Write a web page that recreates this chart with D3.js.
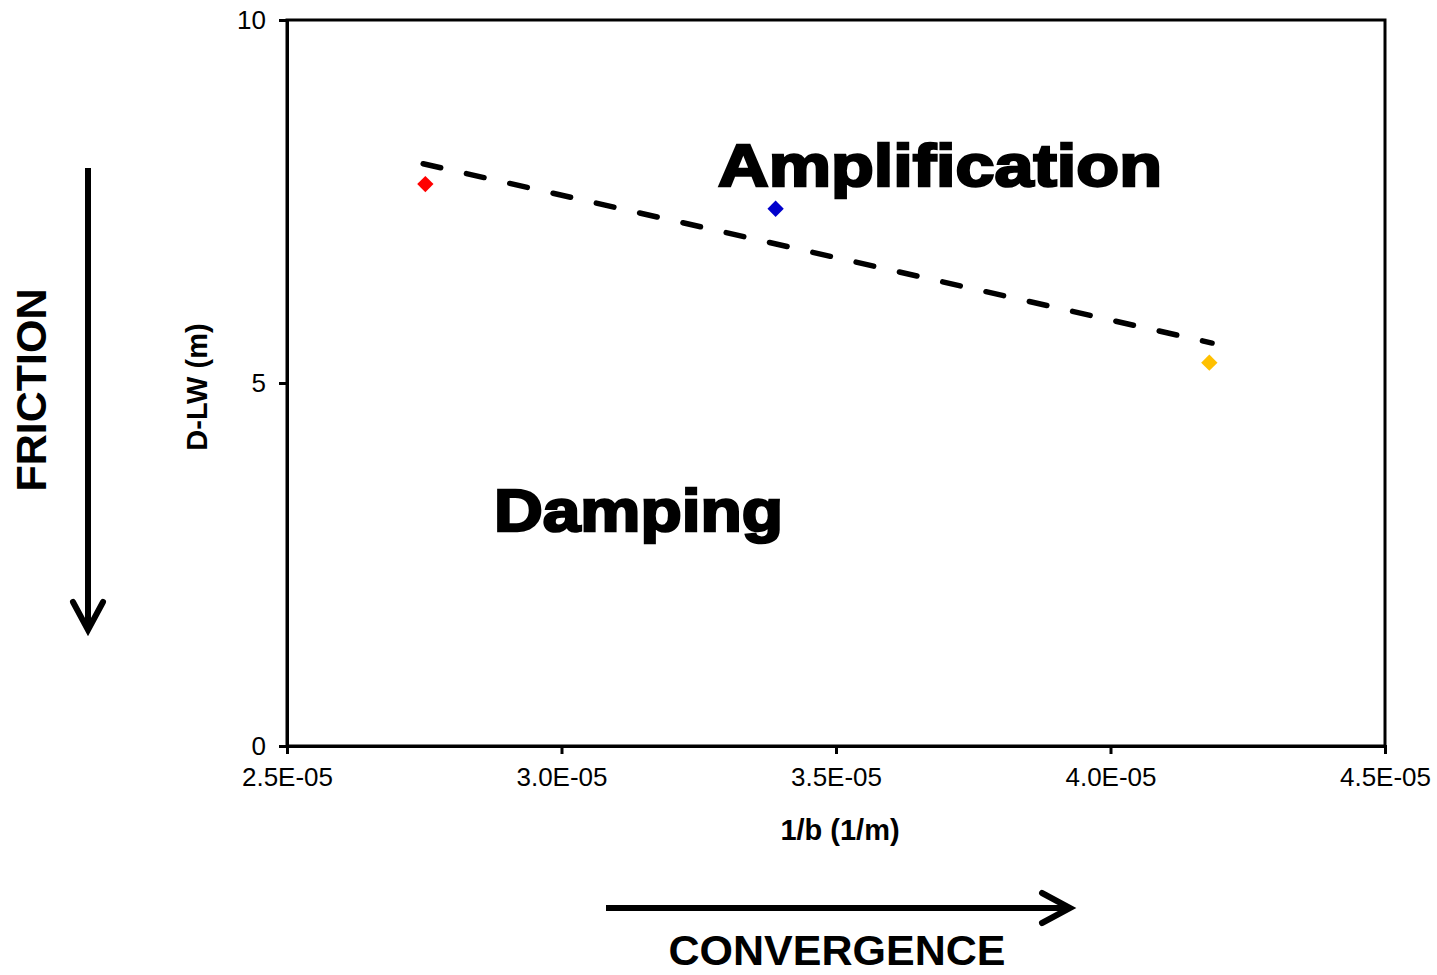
<!DOCTYPE html>
<html><head><meta charset="utf-8">
<script src="https://cdn.jsdelivr.net/npm/d3@7"></script>
<style>body{margin:0;background:#fff}svg{display:block}text{font-family:"Liberation Sans",Arial,sans-serif}</style>
</head><body><svg id="c" width="1437" height="975"></svg>
<script>
const xTicks = [2.5e-5, 3.0e-5, 3.5e-5, 4.0e-5, 4.5e-5];
const xTickLabels = ["2.5E-05","3.0E-05","3.5E-05","4.0E-05","4.5E-05"];
const yTicks = [0, 5, 10];
const pointX = [2.752e-5, 3.39e-5, 4.18e-5];
const pointY = [7.74, 7.40, 5.28];
const pointColors = ["#ff0000", "#0000cc", "#ffc000"];
const trendX = [2.748e-5, 4.185e-5];
const trendY = [8.02, 5.55];

const svg = d3.select("#c");
const L = 287, R = 1385, T = 20, B = 746;
const x = d3.scaleLinear().domain([2.5e-5, 4.5e-5]).range([L, R]);
const y = d3.scaleLinear().domain([0, 10]).range([B, T]);

svg.append("rect").attr("x", L).attr("y", T).attr("width", R - L).attr("height", B - T)
  .attr("fill", "none").attr("stroke", "#000").attr("stroke-width", 3);

const xAxis = svg.append("g").attr("transform", `translate(0,${B})`)
  .call(d3.axisBottom(x).tickValues(xTicks).tickFormat((d, i) => xTickLabels[i]).tickSize(8).tickPadding(14));
const yAxis = svg.append("g").attr("transform", `translate(${L},0)`)
  .call(d3.axisLeft(y).tickValues(yTicks).tickFormat(d3.format("d")).tickSize(8).tickPadding(13));
[xAxis, yAxis].forEach(a => {
  a.select(".domain").attr("stroke-width", 3);
  a.selectAll(".tick line").attr("stroke-width", 3);
  a.selectAll(".tick text").attr("font-size", 26).attr("fill", "#000").style("font-family", '"Liberation Sans",Arial,sans-serif');
});

svg.append("path").datum(trendX.map((d, i) => [d, trendY[i]]))
  .attr("d", d3.line().x(d => x(d[0])).y(d => y(d[1])))
  .attr("fill", "none").attr("stroke", "#000").attr("stroke-width", 5.5)
  .attr("stroke-dasharray", "18,26.4").attr("stroke-linecap", "round");

svg.selectAll(".pt").data(pointX.map((d, i) => ({x: d, y: pointY[i], c: pointColors[i]})))
  .enter().append("path")
  .attr("transform", d => `translate(${x(d.x)},${y(d.y)})`)
  .attr("d", d3.symbol().type(d3.symbolDiamond2).size(170))
  .attr("fill", d => d.c);

svg.append("text").attr("x", 840).attr("y", 840).attr("text-anchor", "middle")
  .attr("font-size", 29).attr("font-weight", "bold").text("1/b (1/m)");
svg.append("text").attr("transform", "translate(207,387) rotate(-90)").attr("text-anchor", "middle")
  .attr("font-size", 29).attr("font-weight", "bold").text("D-LW (m)");

svg.append("text").attr("x", 718).attr("y", 186).attr("font-size", 60).attr("font-weight", "bold")
  .attr("stroke", "#000").attr("stroke-width", 2.5).attr("textLength", 444).attr("lengthAdjust", "spacingAndGlyphs").text("Amplification");
svg.append("text").attr("x", 494).attr("y", 531).attr("font-size", 60).attr("font-weight", "bold")
  .attr("stroke", "#000").attr("stroke-width", 2.5).attr("textLength", 289).attr("lengthAdjust", "spacingAndGlyphs").text("Damping");

svg.append("text").attr("transform", "translate(46,390) rotate(-90)").attr("text-anchor", "middle")
  .attr("font-size", 43).attr("font-weight", "bold").text("FRICTION");
svg.append("line").attr("x1", 88).attr("y1", 168).attr("x2", 88).attr("y2", 630)
  .attr("stroke", "#000").attr("stroke-width", 6);
svg.append("path").attr("d", "M73,602L88,630L103,602").attr("fill", "none")
  .attr("stroke", "#000").attr("stroke-width", 6).attr("stroke-linecap", "round");

svg.append("text").attr("x", 837).attr("y", 965).attr("text-anchor", "middle")
  .attr("font-size", 43).attr("font-weight", "bold").text("CONVERGENCE");
svg.append("line").attr("x1", 606).attr("y1", 908).attr("x2", 1070).attr("y2", 908)
  .attr("stroke", "#000").attr("stroke-width", 6);
svg.append("path").attr("d", "M1042,893L1070,908L1042,923").attr("fill", "none")
  .attr("stroke", "#000").attr("stroke-width", 6).attr("stroke-linecap", "round");
</script></body></html>
